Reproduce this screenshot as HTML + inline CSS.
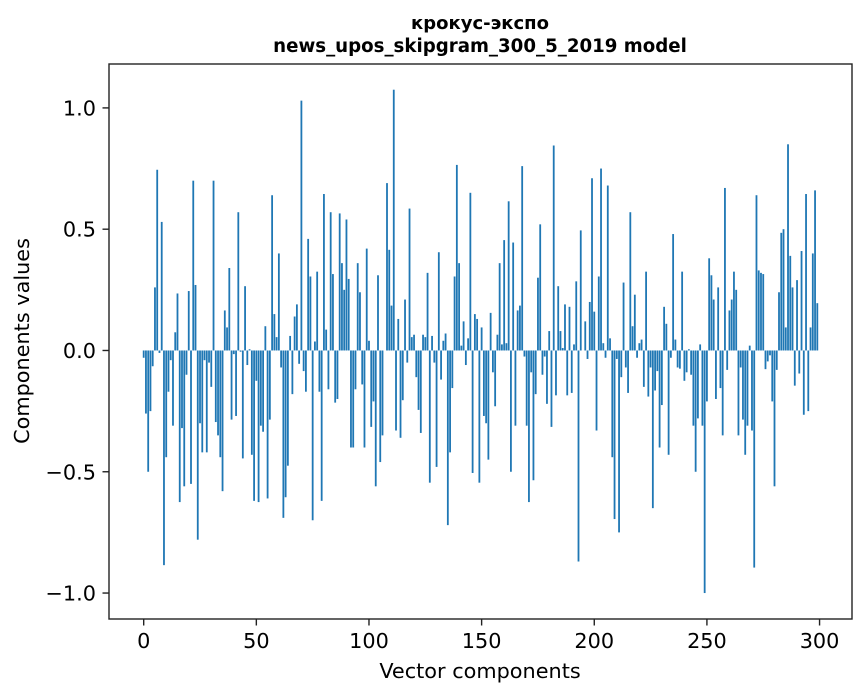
<!DOCTYPE html>
<html><head><meta charset="utf-8">
<style>
html,body{margin:0;padding:0;background:#fff;}
svg{display:block;font-family:"DejaVu Sans","Liberation Sans",sans-serif;}
</style></head>
<body>
<svg id="chart" width="867" height="696" viewBox="0 0 867 696" xmlns="http://www.w3.org/2000/svg">
<rect x="0" y="0" width="867" height="696" fill="#fff"/>
<text x="480" y="29" text-anchor="middle" font-size="18" font-weight="bold">крокус-экспо</text>
<text x="480" y="52" text-anchor="middle" font-size="18.2" font-weight="bold">news_upos_skipgram_300_5_2019 model</text>
<g id="bars"></g>
<g id="xticks"></g>
<g id="yticks"></g>
<rect x="109" y="64" width="743" height="555" fill="none" stroke="#222" stroke-width="1.4"/>
<text x="480" y="678" text-anchor="middle" font-size="20.8">Vector components</text>
<text x="0" y="0" transform="translate(29,341) rotate(-90)" text-anchor="middle" font-size="20.8">Components values</text>
</svg>
<script>
const values = [
-0.03,-0.26,-0.50,-0.25,-0.065,0.26,0.745,-0.01,0.53,-0.885,
-0.44,-0.17,-0.04,-0.31,0.075,0.235,-0.625,-0.32,-0.56,-0.10,
0.245,-0.55,0.70,0.27,-0.78,-0.30,-0.42,-0.04,-0.42,-0.05,
-0.15,0.70,-0.295,-0.35,-0.44,-0.58,0.165,0.095,0.34,-0.285,
-0.015,-0.27,0.57,-0.005,-0.445,0.265,-0.06,0.005,-0.43,-0.62,
-0.125,-0.625,-0.31,-0.335,0.10,-0.61,-0.285,0.64,0.15,0.055,
0.40,-0.07,-0.69,-0.605,-0.475,0.06,-0.18,0.14,0.19,-0.055,
1.03,-0.085,-0.17,0.46,0.305,-0.70,0.037,0.325,-0.17,-0.62,
0.645,0.086,-0.16,0.57,0.315,-0.215,-0.20,0.565,0.36,0.25,
0.54,0.295,-0.40,-0.40,-0.16,0.36,0.24,-0.14,-0.40,0.42,
0.04,-0.315,-0.21,-0.56,0.31,-0.46,-0.35,0.0,0.69,0.415,
0.185,1.075,-0.33,0.13,-0.36,-0.205,0.21,-0.05,0.585,0.055,
0.065,-0.11,-0.245,-0.34,0.065,0.055,0.32,-0.545,0.06,-0.05,
-0.48,0.405,-0.12,0.04,0.07,-0.72,-0.42,-0.155,0.305,0.765,
0.36,0.02,0.12,-0.06,0.05,0.65,-0.505,0.15,0.13,-0.545,
0.095,-0.27,-0.30,-0.45,0.155,-0.09,-0.23,0.065,0.36,0.025,
0.455,0.03,0.615,-0.50,0.445,-0.31,0.165,0.185,0.76,-0.025,
-0.31,-0.625,-0.09,-0.535,-0.18,0.30,0.52,-0.10,-0.025,-0.22,
0.08,-0.315,0.845,-0.185,0.265,0.08,0.01,0.19,-0.185,0.18,
-0.175,0.025,0.285,-0.87,0.495,0.0,0.12,-0.035,0.20,0.71,
0.16,-0.33,0.305,0.75,0.03,-0.03,0.68,0.05,-0.44,-0.695,
-0.035,-0.75,-0.11,0.28,-0.07,-0.175,0.57,0.10,0.23,-0.03,
0.03,0.045,-0.15,0.325,-0.19,-0.07,-0.65,-0.165,-0.085,-0.40,
-0.225,0.18,0.11,-0.43,-0.03,0.48,0.045,-0.07,-0.075,0.325,
-0.125,-0.09,0.005,-0.10,-0.31,-0.50,-0.28,0.025,-0.31,-1.0,
-0.21,0.38,0.31,0.21,-0.20,0.26,-0.155,-0.35,0.67,-0.08,
0.165,0.21,0.325,0.25,-0.35,-0.07,-0.285,-0.43,-0.31,0.02,
-0.33,-0.895,0.64,0.33,0.32,0.315,-0.077,-0.045,-0.02,-0.21,
-0.56,-0.08,0.24,0.485,0.50,0.095,0.85,0.39,0.26,-0.145,
0.29,-0.095,0.41,-0.265,0.645,-0.25,0.095,0.40,0.66,0.195
];
const xTicks = [0,50,100,150,200,250,300];
const yTicks = [-1.0,-0.5,0.0,0.5,1.0];
const yTickLabels = ["\u22121.0","\u22120.5","0.0","0.5","1.0"];

const NS = "http://www.w3.org/2000/svg";
const L = 109, R = 852, T = 64, B = 619;
const xMin = -15.4, xMax = 314.4, yMin = -1.107, yMax = 1.181;
function xs(v){ return L + (v - xMin) / (xMax - xMin) * (R - L); }
function ys(v){ return B - (v - yMin) / (yMax - yMin) * (B - T); }

const bars = document.getElementById('bars');
values.forEach((v, i) => {
  const r = document.createElementNS(NS, 'rect');
  const x0 = xs(i - 0.4), x1 = xs(i + 0.4);
  const y0 = ys(Math.max(v, 0)), y1 = ys(Math.min(v, 0));
  r.setAttribute('x', x0);
  r.setAttribute('width', x1 - x0);
  r.setAttribute('y', y0);
  r.setAttribute('height', Math.max(y1 - y0, 0));
  r.setAttribute('fill', '#1f77b4');
  
  
  bars.appendChild(r);
});

const xg = document.getElementById('xticks');
xTicks.forEach(t => {
  const x = xs(t);
  const ln = document.createElementNS(NS, 'line');
  ln.setAttribute('x1', x); ln.setAttribute('x2', x);
  ln.setAttribute('y1', B); ln.setAttribute('y2', B + 6.5);
  ln.setAttribute('stroke', '#222'); ln.setAttribute('stroke-width', '1.4');
  
  
  xg.appendChild(ln);
  const tx = document.createElementNS(NS, 'text');
  tx.setAttribute('x', x); tx.setAttribute('y', B + 29);
  tx.setAttribute('text-anchor', 'middle'); tx.setAttribute('font-size', '20.8');
  tx.textContent = String(t);
  
  
  xg.appendChild(tx);
});

const yg = document.getElementById('yticks');
yTicks.forEach((t, k) => {
  const y = ys(t);
  const ln = document.createElementNS(NS, 'line');
  ln.setAttribute('x1', L - 6.5); ln.setAttribute('x2', L);
  ln.setAttribute('y1', y); ln.setAttribute('y2', y);
  ln.setAttribute('stroke', '#222'); ln.setAttribute('stroke-width', '1.4');
  
  
  yg.appendChild(ln);
  const tx = document.createElementNS(NS, 'text');
  tx.setAttribute('x', L - 13); tx.setAttribute('y', y + 7.5);
  tx.setAttribute('text-anchor', 'end'); tx.setAttribute('font-size', '20.8');
  tx.textContent = yTickLabels[k];
  
  
  yg.appendChild(tx);
});
</script>
</body></html>
